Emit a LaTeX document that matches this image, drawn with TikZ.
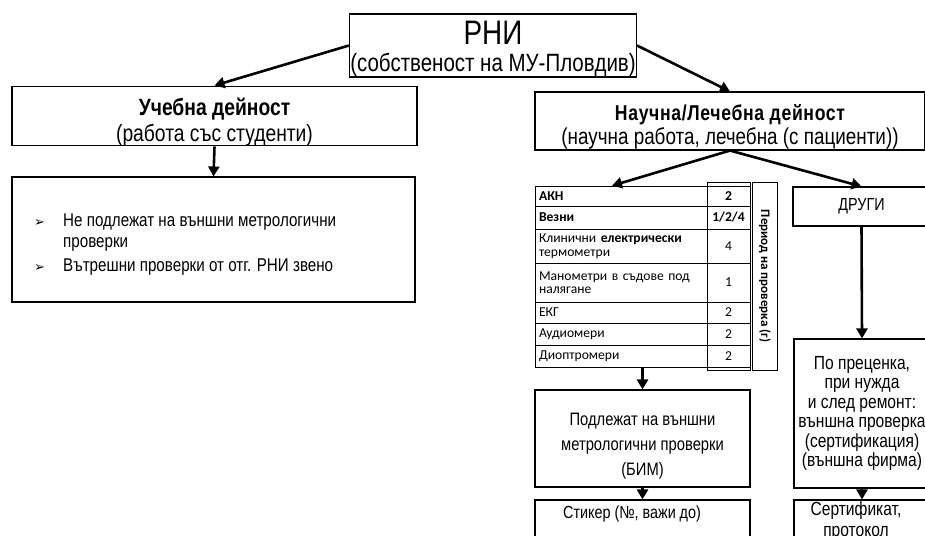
\documentclass[tikz,border=0pt]{standalone}
\usepackage{fontspec}
\setmainfont{Liberation Sans}[FakeStretch=0.82]
\newfontfamily\tablefont{Carlito}
\newfontfamily\symfont{DejaVu Sans}
\usetikzlibrary{arrows.meta}

\tikzset{
  box/.style={draw, line width=1.1pt, align=center, inner sep=0pt},
  cell/.style={draw, line width=0.6pt, inner sep=0pt},
  arr/.style={line width=2.6pt, -{Triangle[length=10pt,width=11pt]}},
}
\newcommand{\tsize}{\tablefont\fontsize{13.6}{13.6}\selectfont}
\newcommand{\topstrut}[1]{\rule{0pt}{#1}}

\begin{document}
\begin{tikzpicture}[x=1pt,y=-1pt]
\useasboundingbox (0,0) rectangle (925,535);

% top level
\node[box, minimum width=287, minimum height=63, font=\fontsize{25}{18.5}\selectfont] (rni) at (493,45.5)
  {{\fontsize{34}{34}\selectfont\topstrut{30pt}РНИ}\\[9pt](собственост на МУ-Пловдив)};

% left branch
\node[box, minimum width=405, minimum height=58, font=\fontsize{23.5}{26}\selectfont] (ucheb) at (214.5,116)
  {\topstrut{29pt}\textbf{Учебна дейност}\\(работа със студенти)};
\node[box, minimum width=403, minimum height=125] (bullets) at (213.5,239.5) {};
\node[anchor=west, inner sep=0pt, font=\fontsize{18.5}{21}\selectfont] (btext) at (34,245)
  {\begin{tabular}{@{}p{29pt}@{}l@{}}
   {\symfont\fontsize{13}{13}\selectfont ➢} & Не подлежат на външни метрологични\\
   & проверки\\[3pt]
   {\symfont\fontsize{13}{13}\selectfont ➢} & Вътрешни проверки от отг. РНИ звено
   \end{tabular}};

% right branch
\node[box, minimum width=390, minimum height=58, font=\fontsize{23}{24}\selectfont] (nauch) at (730,121)
  {{\fontsize{21.5}{25}\selectfont\bfseries\addfontfeature{LetterSpace=3}\topstrut{28pt}Научна/Лечебна дейност}\\(научна работа, лечебна (с пациенти))};

% table of devices
\foreach \i/\nm/\val/\ya/\yb in {
  1/{\textbf{АКН}}/{\textbf{2}}/186/206,
  2/{\textbf{Везни}}/{\textbf{1/2/4}}/206/229,
  3/{Клинични \textbf{електрически}\\термометри}/4/229/263,
  4/{Манометри в съдове под\\налягане}/1/263/302,
  5/{ЕКГ}/2/302/323,
  6/{Аудиомери}/2/323/345,
  7/{Диоптромери}/2/345/367}{
  \node[cell, text width=164, inner xsep=4pt, minimum height=\yb-\ya, align=left, font=\tsize]
    (n\i) at (621,{(\ya+\yb)/2}) {\nm};
  \node[cell, minimum width=43, minimum height=\yb-\ya, font=\tsize]
    (v\i) at (728.5,{(\ya+\yb)/2}) {\val};
}
\draw[line width=0.8pt] (707,182) rectangle (750,370);
\node[cell, line width=1pt, minimum width=25, minimum height=188,
  font=\tablefont\fontsize{13}{13}\selectfont\bfseries] (period) at (765,276)
  {\rotatebox{-90}{Период на проверка (г)}};

\node[box, minimum width=215, minimum height=97, font=\fontsize{18}{25}\selectfont] (podl) at (642.5,438.5)
  {\topstrut{27pt}Подлежат на външни\\метрологични проверки\\(БИМ)};
\node[box, minimum width=215, minimum height=60] (stikbox) at (642.5,530) {};
\node[anchor=north west, inner sep=0pt, font=\fontsize{17.5}{20}\selectfont] (stik) at (563,506)
  {Стикер (№, важи до)};

% others
\node[box, minimum width=137, minimum height=39, font=\fontsize{17.5}{20}\selectfont] (drugi) at (861.5,206.5) {ДРУГИ};
\node[box, minimum width=136, minimum height=149, font=\fontsize{19}{19.5}\selectfont] (preck) at (862,413.5)
  {По преценка,\\при нужда\\и след ремонт:\\външна проверка\\(сертификация)\\(външна фирма)};
\node[box, minimum width=136, minimum height=60] (certbox) at (862,530) {};
\node[anchor=north, inner sep=0pt, align=center, font=\fontsize{19}{21}\selectfont] (cert) at (856,502)
  {Сертификат,\\протокол};

% connectors
\draw[arr] (rni.west) -- (ucheb.north);
\draw[arr] (rni.east) -- (nauch.north);
\draw[arr] (ucheb.south) -- (bullets.north);
\draw[arr] (nauch.south) -- ([xshift=-9pt]n1.north);
\draw[arr] (nauch.south) -- (drugi.north);
\draw[arr] (drugi.south) -- (preck.north);
\draw[arr] (podl.north |- n7.south) -- (podl.north);
\draw[arr] (podl.south) -- (stikbox.north);
\draw[arr] (preck.south) -- (certbox.north);
\end{tikzpicture}
\end{document}
